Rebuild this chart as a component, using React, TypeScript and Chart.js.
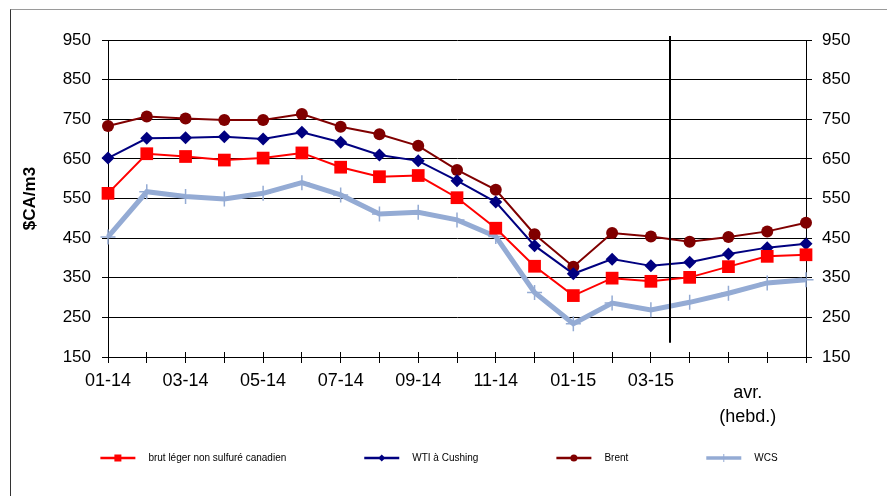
import React, { useEffect, useRef } from 'react';
import { Chart, registerables } from 'chart.js';

Chart.register(...registerables);

// ---- data ----
const categories = [
  '01-14', '02-14', '03-14', '04-14', '05-14', '06-14', '07-14', '08-14', '09-14',
  '10-14', '11-14', '12-14', '01-15', '02-15', '03-15',
  'avr. s1', 'avr. s2', 'avr. s3', 'avr. s4',
];
const shownTickLabels = ['01-14', '03-14', '05-14', '07-14', '09-14', '11-14', '01-15', '03-15'];
const weeklyGroupLabel = ['avr.', '(hebd.)'];
const weeklyGroupFirst = 15;
const weeklyGroupLast = 18;

const brutLeger = [563, 663, 656, 647, 652, 665, 629, 605, 608, 552, 475, 379, 305, 349, 341, 351, 378, 404, 408];
const wtiCushing = [652, 702, 703, 706, 700, 717, 692, 660, 645, 595, 541, 431, 360, 397, 380, 389, 410, 426, 436];
const brent = [733, 757, 752, 748, 748, 763, 731, 712, 683, 622, 572, 460, 378, 463, 454, 441, 453, 467, 489];
const wcs = [453, 567, 555, 549, 563, 590, 559, 511, 515, 496, 454, 313, 234, 286, 269, 288, 311, 337, 345];

const seriesLabels = ['brut léger non sulfuré canadien', 'WTI à Cushing', 'Brent', 'WCS'];
const yAxisTitle = '$CA/m3';
const yMin = 150;
const yMax = 950;
const yStep = 100;

// divider between monthly and weekly data
const dividerAt = 14.5;
const dividerFrom = 186;
const dividerTo = 960;

// ---- layout / style ----
const W = 887;
const H = 496;
const FONT = '"Liberation Sans", Arial, sans-serif';
const PLOT_TOP = 40;
const PLOT_BOTTOM = 357;
const LEFT_AXIS_W = 108;
const RIGHT_AXIS_W = 81;

const LEG_SW = 35;
const LEG_TXT_GAP = 13;
const LEG_GAP = 78;
const LEG_CX = 439;
const LEG_Y = 458;
const legendLineW = [2.5, 2.5, 2.5, 3.5];
const legendMarkerR = [3.5, 3.5, 3.5, 4];

function drawMarker(ctx: CanvasRenderingContext2D, style: string, x: number, y: number, r: number, color: string) {
  ctx.save();
  ctx.fillStyle = color;
  ctx.strokeStyle = color;
  ctx.beginPath();
  if (style === 'rect') {
    ctx.fillRect(x - r, y - r, 2 * r, 2 * r);
  } else if (style === 'rectRot') {
    ctx.moveTo(x - r, y);
    ctx.lineTo(x, y - r);
    ctx.lineTo(x + r, y);
    ctx.lineTo(x, y + r);
    ctx.closePath();
    ctx.fill();
  } else if (style === 'circle') {
    ctx.arc(x, y, r, 0, Math.PI * 2);
    ctx.fill();
  } else {
    ctx.lineWidth = 1;
    ctx.moveTo(x - r, y);
    ctx.lineTo(x + r, y);
    ctx.moveTo(x, y - r);
    ctx.lineTo(x, y + r);
    ctx.stroke();
  }
  ctx.restore();
}

const overlayPlugin = {
  id: 'overlay',
  afterDraw(chart: any) {
    const { ctx, chartArea, scales } = chart;
    const xs = scales.x;
    const ys = scales.y;
    const yr = scales.y2;
    const align = (p: number) => Math.round(p - 0.5) + 0.5;
    ctx.save();
    ctx.strokeStyle = '#000';
    ctx.lineWidth = 1;
    ctx.beginPath();
    xs.ticks.forEach((_t: any, i: number) => {
      const px = align(xs.getPixelForTick(i));
      ctx.moveTo(px, chartArea.bottom);
      ctx.lineTo(px, chartArea.bottom - 5);
    });
    yr.ticks.forEach((_t: any, i: number) => {
      const py = align(yr.getPixelForTick(i));
      ctx.moveTo(chartArea.right, py);
      ctx.lineTo(chartArea.right - 4, py);
    });
    ctx.stroke();

    // divider
    const dx = Math.round(xs.getPixelForValue(dividerAt));
    ctx.lineWidth = 2;
    ctx.beginPath();
    ctx.moveTo(dx, ys.getPixelForValue(dividerTo));
    ctx.lineTo(dx, ys.getPixelForValue(dividerFrom));
    ctx.stroke();

    // weekly group label
    ctx.fillStyle = '#000';
    ctx.font = `18px ${FONT}`;
    ctx.textAlign = 'center';
    ctx.textBaseline = 'alphabetic';
    const wx = xs.getPixelForValue((weeklyGroupFirst + weeklyGroupLast) / 2);
    weeklyGroupLabel.forEach((line, k) => {
      ctx.fillText(line, wx, chartArea.bottom + 41 + k * 23.5);
    });

    // legend
    ctx.font = `10px ${FONT}`;
    ctx.textAlign = 'left';
    ctx.textBaseline = 'middle';
    const ds = chart.data.datasets;
    const widths = ds.map((d: any) => LEG_SW + LEG_TXT_GAP + ctx.measureText(d.label).width);
    const total = widths.reduce((a: number, b: number) => a + b, 0) + LEG_GAP * (ds.length - 1);
    let lx = LEG_CX - total / 2;
    ds.forEach((d: any, i: number) => {
      ctx.strokeStyle = d.borderColor;
      ctx.lineWidth = legendLineW[i];
      ctx.beginPath();
      ctx.moveTo(lx, LEG_Y);
      ctx.lineTo(lx + LEG_SW, LEG_Y);
      ctx.stroke();
      drawMarker(ctx, d.pointStyle, lx + LEG_SW / 2, LEG_Y, legendMarkerR[i], d.borderColor);
      ctx.fillStyle = '#000';
      ctx.fillText(d.label, lx + LEG_SW + LEG_TXT_GAP, LEG_Y);
      lx += widths[i] + LEG_GAP;
    });
    ctx.restore();
  },
};

export default function App() {
  const ref = useRef<HTMLCanvasElement | null>(null);

  useEffect(() => {
    if (!ref.current) return;
    const tickFont = { family: FONT, size: 17 };
    const chart = new Chart(ref.current, {
      type: 'line',
      data: {
        labels: categories,
        datasets: [
          {
            label: seriesLabels[0],
            data: brutLeger,
            borderColor: '#FF0000',
            backgroundColor: '#FF0000',
            pointBackgroundColor: '#FF0000',
            pointBorderColor: '#FF0000',
            borderWidth: 2,
            pointStyle: 'rect',
            pointRadius: 9,
            pointBorderWidth: 0,
            tension: 0,
            clip: false,
          },
          {
            label: seriesLabels[1],
            data: wtiCushing,
            borderColor: '#000080',
            backgroundColor: '#000080',
            pointBackgroundColor: '#000080',
            pointBorderColor: '#000080',
            borderWidth: 2,
            pointStyle: 'rectRot',
            pointRadius: 6.5,
            pointBorderWidth: 0,
            tension: 0,
            clip: false,
          },
          {
            label: seriesLabels[2],
            data: brent,
            borderColor: '#800000',
            backgroundColor: '#800000',
            pointBackgroundColor: '#800000',
            pointBorderColor: '#800000',
            borderWidth: 2,
            pointStyle: 'circle',
            pointRadius: 6,
            pointBorderWidth: 0,
            tension: 0,
            clip: false,
          },
          {
            label: seriesLabels[3],
            data: wcs,
            borderColor: '#94ABD4',
            backgroundColor: '#94ABD4',
            pointBackgroundColor: '#94ABD4',
            pointBorderColor: '#94ABD4',
            borderWidth: 5,
            pointStyle: 'cross',
            pointRadius: 7.5,
            pointBorderWidth: 1.5,
            tension: 0,
            clip: false,
          },
        ],
      } as any,
      options: {
        responsive: false,
        animation: false,
        events: [],
        layout: { padding: { top: PLOT_TOP, left: 0, right: 0, bottom: 0 } },
        plugins: {
          legend: { display: false },
          tooltip: { enabled: false },
        },
        scales: {
          x: {
            type: 'category',
            offset: false,
            grid: { drawOnChartArea: false, drawTicks: true, tickLength: 6, color: '#000', lineWidth: 1 },
            border: { display: true, color: '#000', width: 1 },
            ticks: {
              autoSkip: false,
              maxRotation: 0,
              minRotation: 0,
              padding: 7,
              color: '#000',
              font: { family: FONT, size: 18 },
              callback: (_v: any, i: number) => (shownTickLabels.includes(categories[i]) ? categories[i] : ''),
            },
            afterFit: (s: any) => {
              s.height = H - PLOT_BOTTOM;
            },
          },
          y: {
            position: 'left',
            min: yMin,
            max: yMax,
            ticks: { stepSize: yStep, padding: 11, color: '#000', font: tickFont },
            grid: { color: '#000', lineWidth: 1, tickLength: 6 },
            border: { display: true, color: '#000', width: 1 },
            title: {
              display: true,
              text: yAxisTitle,
              color: '#000',
              font: { family: FONT, size: 17, weight: 'bold' },
              padding: { top: 20, bottom: 0 },
            },
            afterFit: (s: any) => {
              s.width = LEFT_AXIS_W;
            },
          },
          y2: {
            position: 'right',
            min: yMin,
            max: yMax,
            ticks: { stepSize: yStep, padding: 10, color: '#000', font: tickFont },
            grid: { drawOnChartArea: false, color: '#000', lineWidth: 1, tickLength: 6 },
            border: { display: true, color: '#000', width: 1 },
            afterFit: (s: any) => {
              s.width = RIGHT_AXIS_W;
            },
          },
        },
      } as any,
      plugins: [overlayPlugin],
    });
    return () => chart.destroy();
  }, []);

  return (
    <div style={{ position: 'fixed', left: 0, top: 0, width: W, height: H, background: '#fff', overflow: 'hidden' }}>
      <div
        style={{
          position: 'absolute',
          left: 10,
          top: 9,
          right: -10,
          bottom: -10,
          borderTop: '1px solid #9a9a9a',
          borderLeft: '1px solid #333',
        }}
      />
      <canvas ref={ref} width={W} height={H} style={{ position: 'absolute', left: 0, top: 0 }} />
    </div>
  );
}
